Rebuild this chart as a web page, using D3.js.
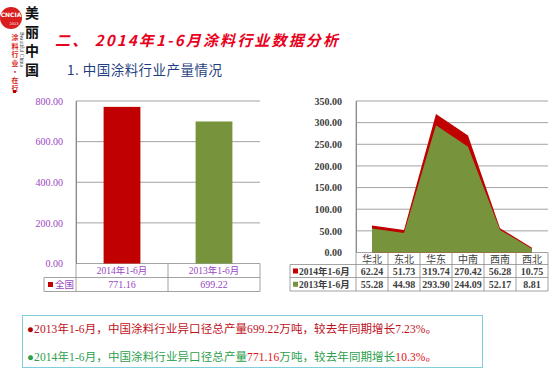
<!DOCTYPE html>
<html>
<head>
<meta charset="utf-8">
<script src="https://cdn.jsdelivr.net/npm/d3@7"></script>
<style>
  body { margin: 0; background: #fff; }
  svg { display: block; }
</style>
</head>
<body>
<svg id="chart" width="557" height="377"></svg>
<script>
// national totals (万吨)
const periods = ['2014年1-6月', '2013年1-6月'];
const nationTotals = [771.16, 699.22];
const nationLabel = '全国';
const nationTicks = [0, 200, 400, 600, 800];

// regional output
const regions = ['华北', '东北', '华东', '中南', '西南', '西北'];
const region2014 = [62.24, 51.73, 319.74, 270.42, 56.28, 10.75];
const region2013 = [55.28, 44.98, 293.90, 244.09, 52.17, 8.81];
const regionTicks = [0, 50, 100, 150, 200, 250, 300, 350];

const RED = '#c00000', GREEN = '#77933c', PURPLE = '#9b45c4', GRID = '#8c8c8c';
const fmt = d3.format('.2f');

const svg = d3.select('#chart');

// --- logo (rough) ---
const logo = svg.append('g');
logo.append('ellipse').attr('cx', 11).attr('cy', 18).attr('rx', 11).attr('ry', 11).attr('fill', '#d81e1e');
logo.append('text').attr('x', 11).attr('y', 17).attr('text-anchor', 'middle')
  .attr('font-family', 'DejaVu Sans').attr('font-weight', 'bold').attr('font-size', 6)
  .attr('fill', '#fff').text('CNCIA');
logo.append('text').attr('x', 14).attr('y', 25).attr('text-anchor', 'middle')
  .attr('font-family', 'DejaVu Sans').attr('font-size', 3.5).attr('fill', '#fff').text('2013');
['美', '丽', '中', '国'].forEach((c, i) => {
  logo.append('text').attr('x', 32).attr('y', 18 + i * 19).attr('text-anchor', 'middle')
    .attr('font-family', 'Noto Sans CJK SC').attr('font-weight', 'bold').attr('font-size', 14)
    .attr('fill', '#111').text(c);
});
['涂', '料', '行', '业', '·', '在', '行'].forEach((c, i) => {
  logo.append('text').attr('x', 15).attr('y', 40 + i * 8.5).attr('text-anchor', 'middle')
    .attr('font-family', 'Noto Sans CJK SC').attr('font-weight', 'bold').attr('font-size', 7)
    .attr('fill', '#d81e1e').text(c);
});
logo.append('text').attr('transform', 'translate(20,32) rotate(90)')
  .attr('font-family', 'Liberation Serif').attr('font-size', 5.5).attr('fill', '#333')
  .text('Beautiful China');
svg.append('rect').attr('x', 13).attr('y', 90).attr('width', 3).attr('height', 3).attr('fill', RED);

// --- titles ---
svg.append('text').attr('x', 55).attr('y', 46)
  .attr('font-family', 'Noto Sans CJK SC').attr('font-weight', 'bold').attr('font-style', 'italic')
  .attr('font-size', 15).attr('fill', '#e8001c')
  .attr('textLength', 283).attr('lengthAdjust', 'spacing')
  .text('二、 2014年1-6月涂料行业数据分析');
svg.append('text').attr('x', 67).attr('y', 75)
  .attr('font-family', 'Noto Sans CJK SC').attr('font-size', 13.5).attr('fill', '#1f3f80')
  .attr('textLength', 155).attr('lengthAdjust', 'spacing')
  .text('1. 中国涂料行业产量情况');

// --- left chart: national bars ---
(function () {
  const x0 = 76, x1 = 260, yTop = 101, yBot = 263.5;
  const x = d3.scaleBand().domain(periods).range([x0, x1]).paddingInner(0.6).paddingOuter(0.3);
  const y = d3.scaleLinear().domain([0, 800]).range([yBot, yTop]);
  const g = svg.append('g');

  g.append('g').selectAll('line').data(nationTicks).join('line')
    .attr('x1', x0).attr('x2', x1).attr('y1', d => y(d)).attr('y2', d => y(d))
    .attr('stroke', GRID).attr('stroke-width', 0.8);

  const ax = g.append('g').attr('transform', `translate(${x0},0)`)
    .call(d3.axisLeft(y).tickValues(nationTicks).tickFormat(fmt).tickSize(0).tickPadding(13));
  ax.select('.domain').attr('stroke', GRID);
  ax.selectAll('text').attr('font-family', 'Liberation Serif').attr('font-size', 10).attr('fill', PURPLE);

  g.selectAll('rect.bar').data(nationTotals).join('rect').attr('class', 'bar')
    .attr('x', (d, i) => x(periods[i])).attr('width', x.bandwidth())
    .attr('y', d => y(d)).attr('height', d => yBot - y(d))
    .attr('fill', (d, i) => i === 0 ? RED : GREEN);

  // data table
  const colW = (x1 - x0) / periods.length;
  const r1 = yBot, r2 = 277.5, r3 = 291.5, lx = 44;
  const t = g.append('g').attr('stroke', GRID).attr('stroke-width', 0.8);
  t.append('line').attr('x1', x0).attr('x2', x1).attr('y1', r2).attr('y2', r2);
  t.append('line').attr('x1', lx).attr('x2', x1).attr('y1', r3).attr('y2', r3);
  t.append('line').attr('x1', lx).attr('x2', x0).attr('y1', r2).attr('y2', r2);
  t.append('line').attr('x1', lx).attr('x2', lx).attr('y1', r2).attr('y2', r3);
  d3.range(periods.length + 1).forEach(i => {
    t.append('line').attr('x1', x0 + i * colW).attr('x2', x0 + i * colW).attr('y1', i === 0 ? yTop : r1).attr('y2', r3);
  });
  periods.forEach((p, i) => {
    g.append('text').attr('x', x0 + (i + 0.5) * colW).attr('y', (r1 + r2) / 2 + 3.5)
      .attr('text-anchor', 'middle').attr('font-family', 'Liberation Serif, Noto Sans CJK SC')
      .attr('font-size', 9.5).attr('fill', PURPLE).text(p);
    g.append('text').attr('x', x0 + (i + 0.5) * colW).attr('y', (r2 + r3) / 2 + 3.5)
      .attr('text-anchor', 'middle').attr('font-family', 'Liberation Serif')
      .attr('font-size', 10).attr('fill', PURPLE).text(fmt(nationTotals[i]));
  });
  g.append('rect').attr('x', lx + 4).attr('y', (r2 + r3) / 2 - 2.5).attr('width', 5).attr('height', 5).attr('fill', RED);
  g.append('text').attr('x', lx + 11).attr('y', (r2 + r3) / 2 + 3.5)
    .attr('font-family', 'Noto Sans CJK SC').attr('font-size', 9.5).attr('fill', PURPLE).text(nationLabel);
})();

// --- right chart: regional areas ---
(function () {
  const x0 = 356, x1 = 548, yTop = 101, yBot = 252.5;
  const xb = d3.scaleBand().domain(regions).range([x0, x1]);
  const xc = d => xb(d) + xb.bandwidth() / 2;
  const y = d3.scaleLinear().domain([0, 350]).range([yBot, yTop]);
  const g = svg.append('g');

  g.append('g').selectAll('line').data(regionTicks).join('line')
    .attr('x1', x0).attr('x2', x1).attr('y1', d => y(d)).attr('y2', d => y(d))
    .attr('stroke', GRID).attr('stroke-width', 0.8);

  const ax = g.append('g').attr('transform', `translate(${x0},0)`)
    .call(d3.axisLeft(y).tickValues(regionTicks).tickFormat(fmt).tickSize(0).tickPadding(14));
  ax.select('.domain').attr('stroke', GRID);
  ax.selectAll('text').attr('font-family', 'Liberation Serif').attr('font-weight', 'bold')
    .attr('font-size', 10).attr('fill', '#404040');

  const area = d3.area().x((d, i) => xc(regions[i])).y0(yBot).y1(d => y(d));
  g.append('path').datum(region2014).attr('d', area).attr('fill', RED);
  g.append('path').datum(region2013).attr('d', area).attr('fill', GREEN);

  // data table
  const colW = xb.bandwidth();
  const r1 = yBot, r2 = 264.5, r3 = 277.5, r4 = 291, lx = 290;
  const t = g.append('g').attr('stroke', GRID).attr('stroke-width', 0.8);
  t.append('line').attr('x1', x0).attr('x2', x1).attr('y1', r2).attr('y2', r2);
  [r3, r4].forEach(r => t.append('line').attr('x1', lx).attr('x2', x1).attr('y1', r).attr('y2', r));
  t.append('line').attr('x1', lx).attr('x2', x0).attr('y1', r2).attr('y2', r2);
  t.append('line').attr('x1', lx).attr('x2', lx).attr('y1', r2).attr('y2', r4);
  d3.range(regions.length + 1).forEach(i => {
    t.append('line').attr('x1', x0 + i * colW).attr('x2', x0 + i * colW).attr('y1', i === 0 ? yTop : r1).attr('y2', r4);
  });
  regions.forEach((rg, i) => {
    const cx = xc(rg);
    g.append('text').attr('x', cx).attr('y', (r1 + r2) / 2 + 4).attr('text-anchor', 'middle')
      .attr('font-family', 'Noto Sans CJK SC').attr('font-size', 10).attr('fill', '#404040').text(rg);
    g.append('text').attr('x', cx).attr('y', (r2 + r3) / 2 + 3.5).attr('text-anchor', 'middle')
      .attr('font-family', 'Liberation Serif').attr('font-weight', 'bold').attr('font-size', 10)
      .attr('fill', '#404040').text(fmt(region2014[i]));
    g.append('text').attr('x', cx).attr('y', (r3 + r4) / 2 + 3.5).attr('text-anchor', 'middle')
      .attr('font-family', 'Liberation Serif').attr('font-weight', 'bold').attr('font-size', 10)
      .attr('fill', '#404040').text(fmt(region2013[i]));
  });
  [['2014年1-6月', RED, r2, r3], ['2013年1-6月', GREEN, r3, r4]].forEach(([lab, c, a, b]) => {
    g.append('rect').attr('x', lx + 3).attr('y', (a + b) / 2 - 2.5).attr('width', 5).attr('height', 5).attr('fill', c);
    g.append('text').attr('x', lx + 9).attr('y', (a + b) / 2 + 3.5)
      .attr('font-family', 'Liberation Serif, Noto Sans CJK SC').attr('font-weight', 'bold')
      .attr('font-size', 9.5).attr('fill', '#404040').text(lab);
  });
})();

// --- summary box ---
svg.append('rect').attr('x', 22.5).attr('y', 315.5).attr('width', 460).attr('height', 52)
  .attr('fill', '#fff').attr('stroke', '#7fcfe0').attr('stroke-width', 1);
const lines = [
  { bullet: '#b00000', parts: [['2013年1-6月，中国涂料行业异口径总产量699.22万吨，较去年同期增长7.23%。', '#c0101a']], y: 333 },
  { bullet: '#2ca04c', parts: [['2014年1-6月，中国涂料行业异口径总产量', '#2ca04c'], ['771.16', '#e0101a'], ['万吨，较去年同期增长', '#2ca04c'], ['10.3%。', '#e0101a']], y: 361 }
];
lines.forEach(l => {
  const tx = svg.append('text').attr('x', 27).attr('y', l.y)
    .attr('font-family', 'Liberation Serif, Noto Sans CJK SC').attr('font-size', 11.5)
    .attr('textLength', 410).attr('lengthAdjust', 'spacing');
  tx.append('tspan').attr('fill', l.bullet).text('●');
  l.parts.forEach(([s, c]) => tx.append('tspan').attr('fill', c).text(s));
});
</script>
</body>
</html>
